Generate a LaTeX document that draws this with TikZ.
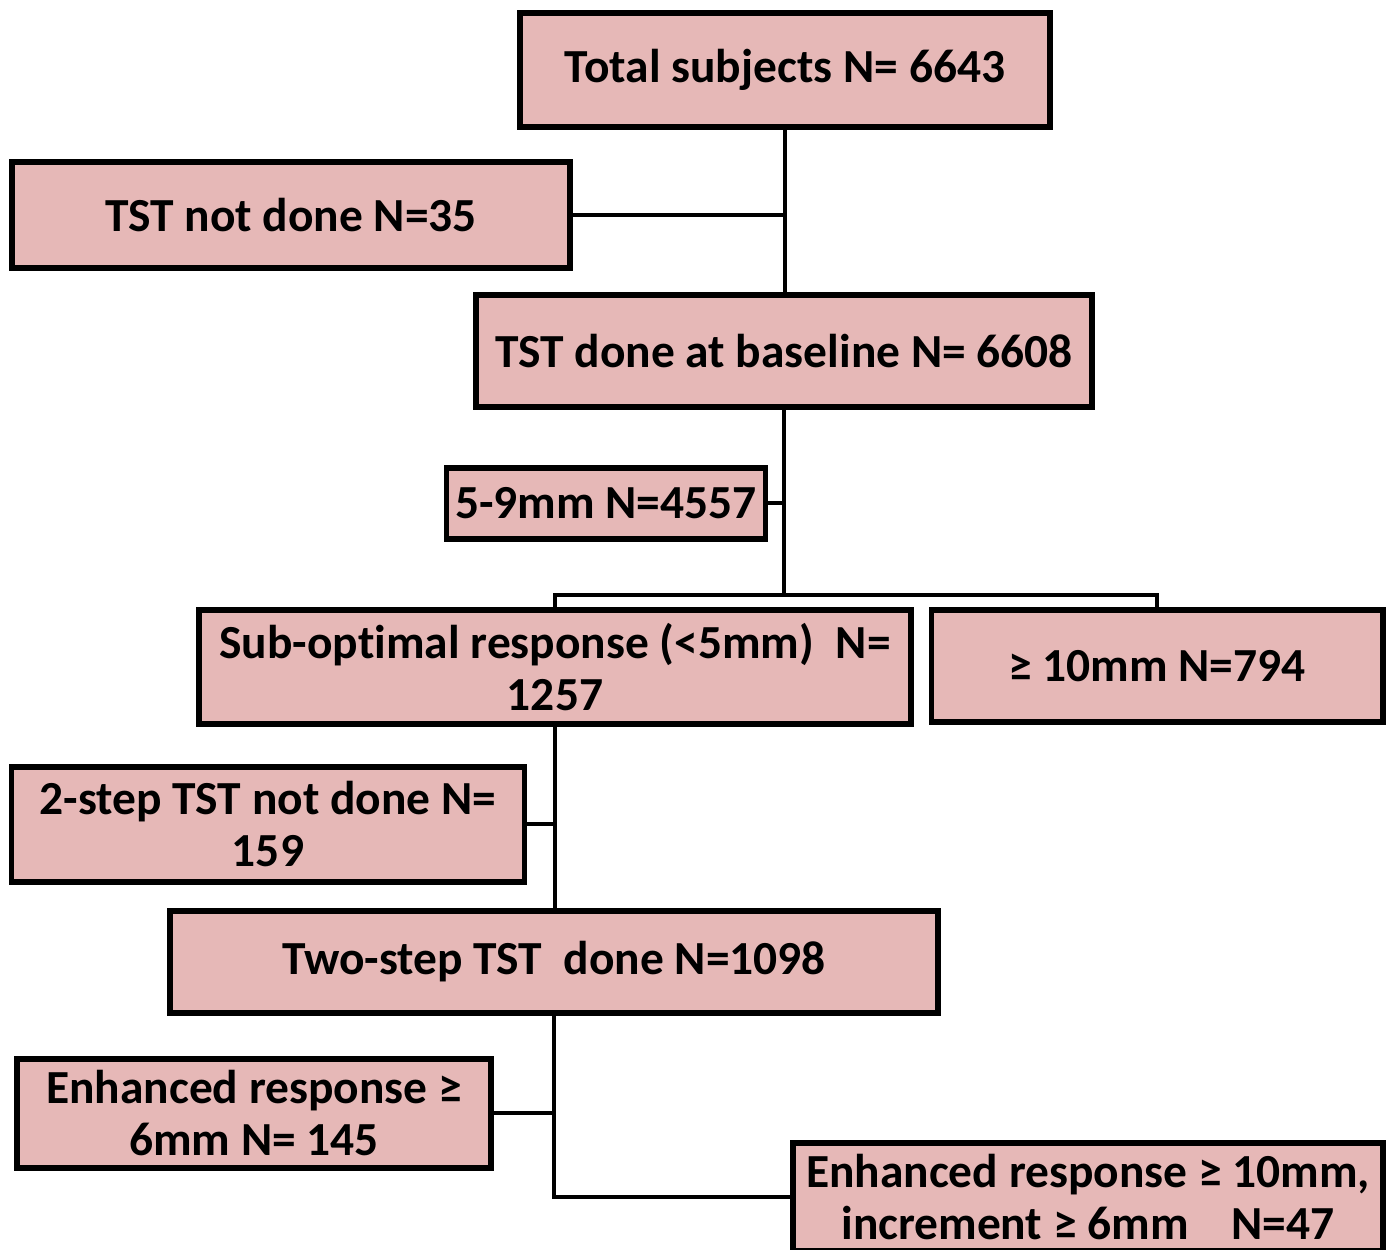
\documentclass[tikz,border=0pt]{standalone}
\usepackage{fontspec}
\setmainfont{Carlito}[Ligatures=NoCommon]
\usetikzlibrary{calc}
\definecolor{cajafill}{HTML}{E6B8B7}
\tikzset{
  caja/.style={draw, line width=1.7pt, fill=cajafill, inner sep=0pt, align=center,
    font=\fontsize{13.5}{14.8}\selectfont\bfseries},
  linea/.style={line width=1.1pt}
}

\begin{document}
\begin{tikzpicture}
	\useasboundingbox (0,0) rectangle (13.91,-12.49);

	% Cajas superiores
	\node[caja, minimum width=5.30cm, minimum height=1.14cm] (total) at (7.85,-0.70) {Total subjects N= 6643};
	\node[caja, minimum width=5.58cm, minimum height=1.06cm] (notdone) at (2.91,-2.15) {TST not done N=35};
	\node[caja, minimum width=6.16cm, minimum height=1.12cm] (baseline) at (7.84,-3.51) {TST done at baseline N= 6608};
	\node[caja, minimum width=3.19cm, minimum height=0.71cm] (mmfive) at (6.06,-5.03) {5-9mm N=4557};

	% Ramas de la prueba inicial
	\node[caja, minimum width=7.12cm, minimum height=1.14cm] (subopt) at (5.55,-6.67) {Sub-optimal response (<5mm)\ \ N=\\1257};
	\node[caja, minimum width=4.51cm, minimum height=1.12cm] (mayor) at (11.57,-6.66) {≥ 10mm N=794};

	% Prueba en dos pasos
	\node[caja, minimum width=5.13cm, minimum height=1.15cm] (notdonetwo) at (2.68,-8.24) {2-step TST not done N=\\159};
	\node[caja, minimum width=7.68cm, minimum height=1.02cm] (twostep) at (5.54,-9.62) {Two-step TST\ \ done N=1098};
	\node[caja, minimum width=4.74cm, minimum height=1.09cm] (enhsix) at (2.54,-11.13) {Enhanced response ≥\\6mm N= 145};
	\node[caja, minimum width=5.90cm, minimum height=1.08cm] (enhten) at (10.88,-11.97) {Enhanced response ≥ 10mm,\\increment ≥ 6mm\ \ \ \ N=47};

	% Conectores
	\draw[linea] (total.south) -- (total.south |- baseline.north);
	\draw[linea] (notdone.east) -- (notdone.east -| total.south);
	\coordinate (rama) at ($(baseline.south) + (0,-1.85)$);
	\draw[linea] (baseline.south) -- (rama);
	\draw[linea] (subopt.north) |- (rama) -| (mayor.north);
	\draw[linea] (mmfive.east) -- (mmfive.east -| baseline.south);
	\draw[linea] (subopt.south) -- (subopt.south |- twostep.north);
	\draw[linea] (notdonetwo.east) -- (notdonetwo.east -| subopt.south);
	\draw[linea] (twostep.south) |- (enhten.west);
	\draw[linea] (enhsix.east) -- (enhsix.east -| twostep.south);
\end{tikzpicture}
\end{document}
